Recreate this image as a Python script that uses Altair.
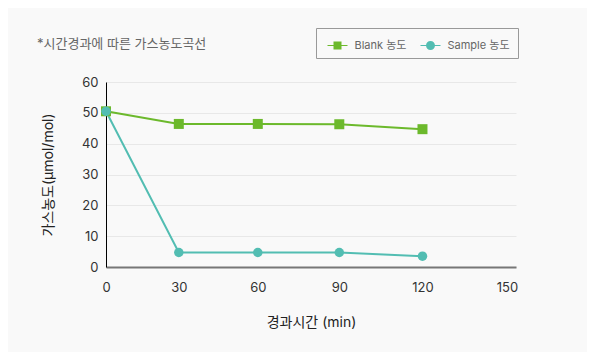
import altair as alt
import pandas as pd

times = [0, 30, 60, 90, 120]
blank = [50.5, 46.4, 46.4, 46.3, 44.7]
sample = [50.5, 4.7, 4.7, 4.7, 3.5]
series_names = ["Blank 농도", "Sample 농도"]
series_colors = ["#6cb92c", "#52bdb2"]
x_ticks = [0, 30, 60, 90, 120, 150]
y_ticks = [0, 10, 20, 30, 40, 50, 60]

rows = []
for name, vals in zip(series_names, [blank, sample]):
    for t, v in zip(times, vals):
        rows.append({"time": t, "value": v, "series": name})
df = pd.DataFrame(rows)

FONT = "Inter, 'Noto Sans CJK KR'"

x_enc = alt.X(
    "time:Q",
    scale=alt.Scale(type="pow", exponent=1.06, domain=[0, 153.2], nice=False, zero=True),
    axis=alt.Axis(
        values=x_ticks, title="경과시간 (min)", grid=False, ticks=False, labelFlush=False,
        domainColor="#777777", domainWidth=2,
        labelFont=FONT, labelFontSize=13, labelColor="#333333", labelPadding=14,
        titleFont=FONT, titleFontSize=14, titleFontWeight="normal", titleColor="#222222",
        titleY=55, titleBaseline="middle",
    ),
)
y_enc = alt.Y(
    "value:Q",
    scale=alt.Scale(domain=[0, 60], nice=False),
    axis=alt.Axis(
        values=y_ticks, title="가스농도(μmol/mol)", grid=True, gridColor="#e8e8e8",
        ticks=False, domainColor="#000000", domainWidth=1,
        labelFont=FONT, labelFontSize=13, labelColor="#333333", labelPadding=8,
        titleFont=FONT, titleFontSize=14, titleFontWeight="normal", titleColor="#222222",
        titleX=-58, titleY=92.5, titleBaseline="middle", titleAlign="center", titleAngle=-90,
    ),
)

legend_cfg = dict(
    title=None, orient="none", legendX=210, legendY=-54, direction="horizontal",
    symbolSize=400, symbolOffset=4, labelFont=FONT, labelFontSize=11, labelColor="#666666",
    labelOffset=7, columnPadding=10, padding=7.5, strokeColor="#999999",
    symbolStrokeWidth=0, symbolOpacity=1,
)
color_scale = alt.Scale(domain=series_names, range=series_colors)
color_enc = alt.Color("series:N", scale=color_scale, legend=alt.Legend(**legend_cfg))

base = alt.Chart(df)

lines = base.mark_line(strokeWidth=2).encode(x=x_enc, y=y_enc, color=color_enc, detail="series:N")

blank_pts = base.transform_filter(alt.datum.series == series_names[0]).mark_square(
    size=100, opacity=1).encode(x=x_enc, y=y_enc, color=color_enc)
sample_pts = base.transform_filter(alt.datum.series == series_names[1]).mark_circle(
    size=90, opacity=1).encode(x=x_enc, y=y_enc, color=color_enc)

sq_path = "M-1,-0.05H-0.4V0.05H-1Z M0.4,-0.05H1V0.05H0.4Z M-0.4,-0.4H0.4V0.4H-0.4Z"
ci_path = ("M-1,-0.05H-0.44V0.05H-1Z M0.44,-0.05H1V0.05H0.44Z "
           "M-0.45,0A0.45,0.45 0 1,1 0.45,0A0.45,0.45 0 1,1 -0.45,0Z")

legend_layer = base.transform_filter("false").mark_point(filled=True, opacity=1).encode(
    x=x_enc, y=y_enc,
    color=color_enc,
    shape=alt.Shape(
        "series:N", scale=alt.Scale(domain=series_names, range=[sq_path, ci_path]),
        legend=alt.Legend(**legend_cfg),
    ),
)

chart = alt.layer(lines, blank_pts, sample_pts, legend_layer).properties(
    width=410, height=185,
    autosize=alt.AutoSizeParams(type="none"),
    padding={"left": 98, "top": 74, "right": 71, "bottom": 85},
    background="#f9f9f9",
    title=alt.TitleParams(
        text="*시간경과에 따른 가스농도곡선", anchor="start", frame="group",
        dx=-69, offset=-29, font=FONT, fontSize=13, fontWeight="normal", color="#666666",
        baseline="middle",
    ),
).configure_view(stroke=None)

chart.save("out.html", embed_options={"renderer": "svg", "actions": False})
